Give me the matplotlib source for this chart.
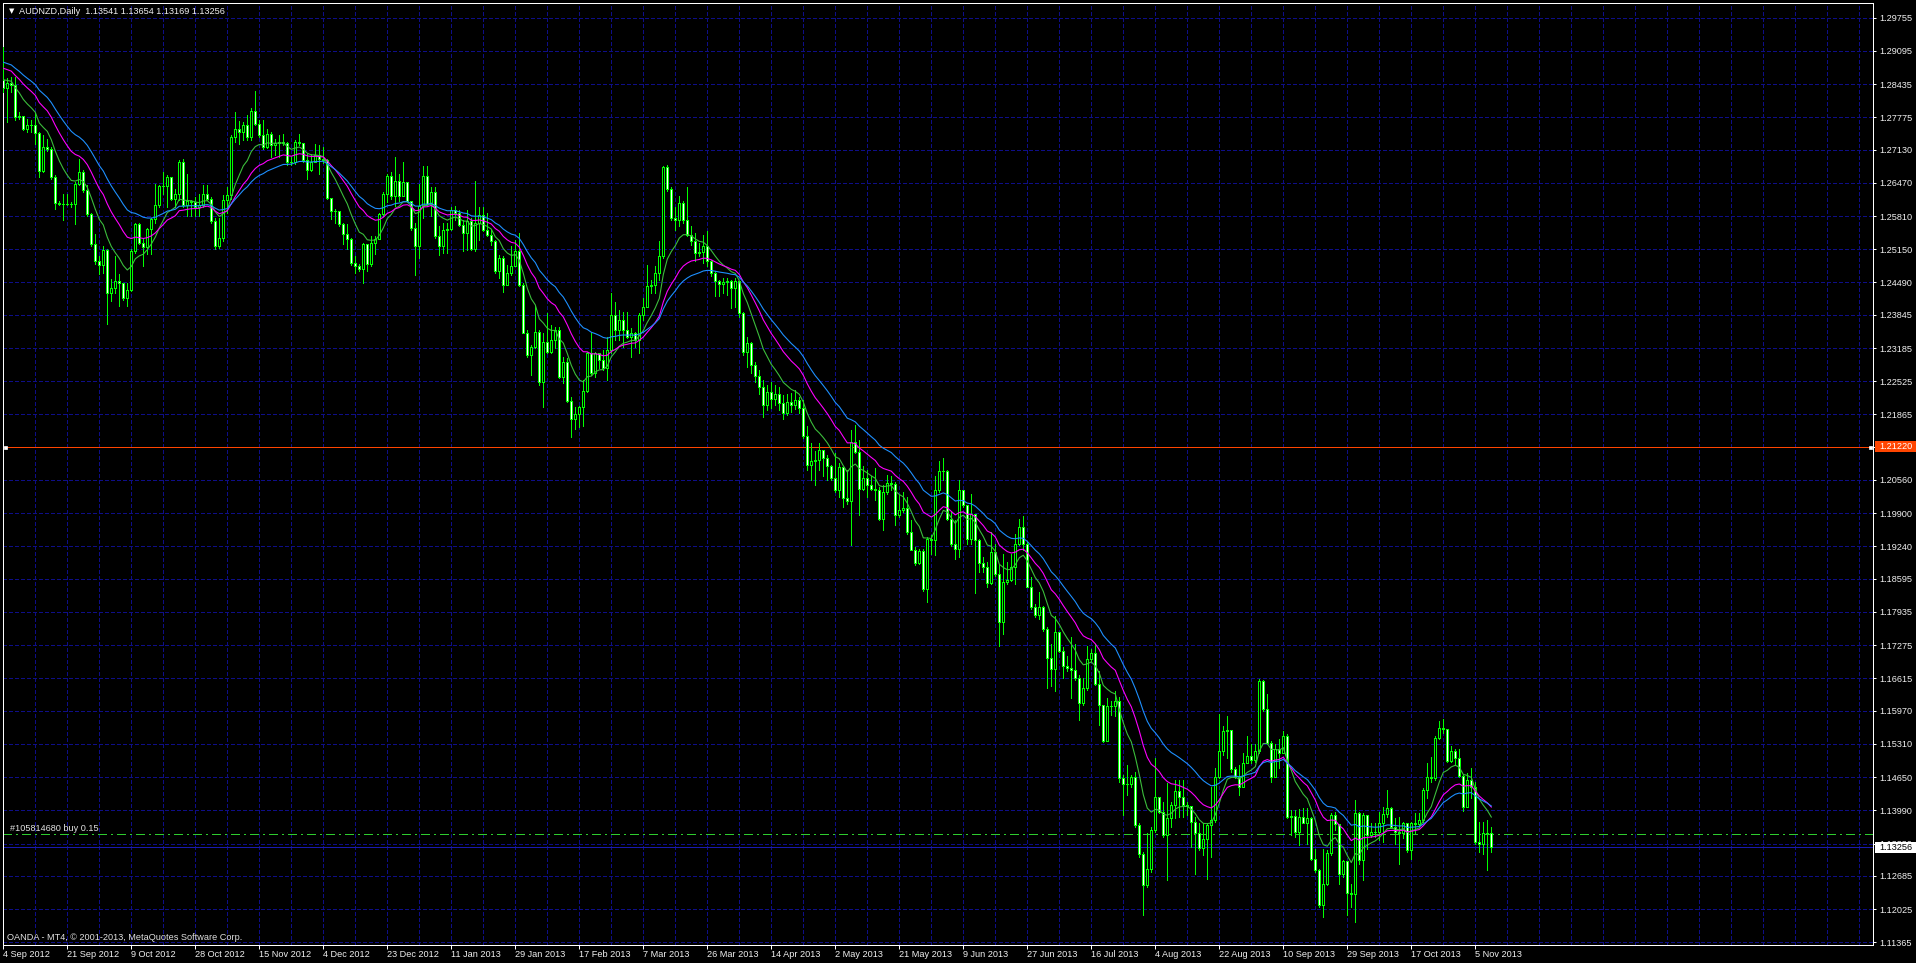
import matplotlib
matplotlib.use("Agg")
import matplotlib.pyplot as plt
import matplotlib.transforms as mtransforms
from matplotlib.patches import Rectangle
import numpy as np

# ---------------- data ----------------
title_text = "AUDNZD,Daily  1.13541 1.13654 1.13169 1.13256"
footer_text = "OANDA - MT4, \u00a9 2001-2013, MetaQuotes Software Corp."
first_open = 1.2852
last_open = 1.13541

closes = [
    1.2835,1.2845,1.2842,1.2778,1.2780,1.2755,1.2763,1.2762,1.2747,1.2670,
    1.2718,1.2714,1.2658,1.2607,1.2605,1.2604,1.2604,1.2605,1.2645,1.2668,
    1.2632,1.2585,1.2525,1.2492,1.2483,1.2514,1.2428,1.2438,1.2452,1.2448,
    1.2418,1.2433,1.2512,1.2565,1.2528,1.2520,1.2555,1.2575,1.2602,1.2640,
    1.2640,1.2658,1.2614,1.2625,1.2688,1.2602,1.2610,1.2608,1.2598,1.2602,
    1.2625,1.2615,1.2572,1.2522,1.2538,1.2612,1.2622,1.2738,1.2755,1.2748,
    1.2763,1.2738,1.2790,1.2764,1.2742,1.2718,1.2745,1.2722,1.2727,1.2728,
    1.2727,1.2688,1.2688,1.2728,1.2727,1.2692,1.2672,1.2688,1.2702,1.2695,
    1.2692,1.2616,1.2592,1.2592,1.2565,1.2545,1.2535,1.2487,1.2482,1.2476,
    1.2525,1.2485,1.2528,1.2535,1.2585,1.2624,1.2660,1.2621,1.2651,1.2621,
    1.2648,1.2611,1.2558,1.2521,1.2601,1.2660,1.2604,1.2628,1.2541,1.2522,
    1.2554,1.2556,1.2594,1.2588,1.2564,1.2548,1.2571,1.2516,1.2568,1.2584,
    1.2554,1.2544,1.2531,1.2471,1.2498,1.2444,1.2468,1.2482,1.2511,1.2444,
    1.2349,1.2304,1.2321,1.2351,1.2251,1.2331,1.2311,1.2334,1.2354,1.2261,
    1.2291,1.2214,1.2178,1.2188,1.2202,1.2234,1.2308,1.2268,1.2308,1.2294,
    1.2278,1.2314,1.2384,1.2354,1.2374,1.2354,1.2341,1.2348,1.2334,1.2384,
    1.2401,1.2442,1.2444,1.2468,1.2501,1.2678,1.2634,1.2578,1.2574,1.2606,
    1.2574,1.2544,1.2531,1.2508,1.2509,1.2522,1.2491,1.2468,1.2451,1.2446,
    1.2449,1.2451,1.2438,1.2451,1.2388,1.2311,1.2328,1.2284,1.2262,1.2240,
    1.2205,1.2232,1.2218,1.2228,1.2210,1.2190,1.2212,1.2205,1.2215,1.2200,
    1.2143,1.2086,1.2093,1.2095,1.2115,1.2099,1.2083,1.2059,1.2036,1.2081,
    1.2021,1.2015,1.2131,1.2111,1.2039,1.2059,1.2046,1.2039,1.2037,1.1979,
    1.2033,1.2051,1.2048,1.1986,1.1996,1.2001,1.1953,1.1917,1.1891,1.1915,
    1.1839,1.1939,1.1936,1.2036,1.2073,1.2073,1.1979,1.1928,1.1919,1.2036,
    1.2006,1.1939,1.1989,1.1936,1.1891,1.1883,1.1851,1.1913,1.1869,1.1773,
    1.1853,1.1857,1.1883,1.1929,1.1963,1.1929,1.1844,1.1803,1.1788,1.1803,
    1.1759,1.1701,1.1681,1.1753,1.1716,1.1686,1.1683,1.1679,1.1663,1.1613,
    1.1643,1.1699,1.1711,1.1651,1.1608,1.1537,1.1606,1.1606,1.1616,1.1463,
    1.1451,1.1451,1.1465,1.1370,1.1312,1.1250,1.1283,1.1360,1.1425,1.1396,
    1.1350,1.1383,1.1410,1.1438,1.1426,1.1410,1.1408,1.1376,1.1353,1.1325,
    1.1341,1.1370,1.1380,1.1465,1.1516,1.1556,1.1558,1.1481,1.1466,1.1446,
    1.1493,1.1508,1.1500,1.1516,1.1656,1.1600,1.1532,1.1466,1.1520,1.1513,
    1.1546,1.1386,1.1388,1.1356,1.1386,1.1374,1.1383,1.1303,1.1281,1.1210,
    1.1252,1.1314,1.1390,1.1372,1.1273,1.1298,1.1234,1.1232,1.1393,1.1300,
    1.1390,1.1350,1.1356,1.1356,1.1374,1.1392,1.1403,1.1366,1.1356,1.1353,
    1.1373,1.1320,1.1373,1.1372,1.1380,1.1440,1.1466,1.1463,1.1543,1.1563,
    1.1560,1.1498,1.1516,1.1503,1.1468,1.1405,1.1460,1.1446,1.1336,1.1333,
    1.1354,1.1353,1.13256,
]

highs = [
    1.2918,1.2855,1.2858,1.2858,1.2787,1.2778,1.2775,1.2772,1.2785,1.2748,
    1.2742,1.2735,1.2718,1.2662,1.2610,1.2625,1.2625,1.2608,1.2648,1.2695,
    1.2672,1.2642,1.2588,1.2545,1.2502,1.2522,1.2515,1.2455,1.2502,1.2465,
    1.2442,1.2448,1.2515,1.2568,1.2568,1.2535,1.2558,1.2578,1.2645,1.2642,
    1.2668,1.2662,1.2658,1.2635,1.2692,1.2695,1.2665,1.2612,1.2618,1.2625,
    1.2642,1.2642,1.2618,1.2578,1.2578,1.2622,1.2638,1.2742,1.2787,1.2770,
    1.2768,1.2782,1.2795,1.2830,1.2772,1.2773,1.2755,1.2748,1.2735,1.2742,
    1.2745,1.2728,1.2698,1.2732,1.2745,1.2725,1.2705,1.2705,1.2725,1.2722,
    1.2718,1.2695,1.2616,1.2595,1.2588,1.2568,1.2565,1.2538,1.2502,1.2485,
    1.2528,1.2502,1.2542,1.2542,1.2588,1.2628,1.2664,1.2668,1.2698,1.2664,
    1.2688,1.2638,1.2611,1.2568,1.2644,1.2681,1.2681,1.2638,1.2638,1.2561,
    1.2568,1.2568,1.2598,1.2600,1.2594,1.2574,1.2594,1.2578,1.2651,1.2598,
    1.2598,1.2588,1.2554,1.2534,1.2504,1.2501,1.2484,1.2521,1.2534,1.2548,
    1.2448,1.2354,1.2324,1.2404,1.2354,1.2348,1.2388,1.2364,1.2361,1.2361,
    1.2301,1.2298,1.2221,1.2201,1.2204,1.2254,1.2311,1.2348,1.2311,1.2308,
    1.2314,1.2341,1.2428,1.2411,1.2394,1.2391,1.2391,1.2358,1.2351,1.2388,
    1.2418,1.2484,1.2454,1.2481,1.2531,1.2681,1.2682,1.2638,1.2598,1.2621,
    1.2611,1.2638,1.2561,1.2548,1.2528,1.2544,1.2551,1.2494,1.2471,1.2454,
    1.2458,1.2458,1.2454,1.2458,1.2451,1.2391,1.2341,1.2331,1.2290,1.2275,
    1.2255,1.2245,1.2250,1.2245,1.2240,1.2225,1.2228,1.2230,1.2235,1.2222,
    1.2215,1.2163,1.2129,1.2113,1.2129,1.2116,1.2106,1.2086,1.2109,1.2089,
    1.2073,1.2076,1.2156,1.2166,1.2136,1.2083,1.2076,1.2063,1.2079,1.2043,
    1.2046,1.2066,1.2063,1.2053,1.2026,1.2033,1.2023,1.1976,1.1923,1.1919,
    1.1919,1.1943,1.1946,1.2063,1.2093,1.2099,1.2076,1.1993,1.1976,1.2056,
    1.2033,1.2006,1.2029,1.1983,1.1939,1.1903,1.1893,1.1953,1.1929,1.1886,
    1.1909,1.1893,1.1909,1.1949,1.1979,1.1984,1.1933,1.1863,1.1809,1.1833,
    1.1806,1.1763,1.1729,1.1786,1.1749,1.1723,1.1706,1.1743,1.1729,1.1669,
    1.1663,1.1726,1.1719,1.1729,1.1676,1.1609,1.1623,1.1616,1.1636,1.1624,
    1.1469,1.1489,1.1470,1.1476,1.1373,1.1316,1.1353,1.1366,1.1503,1.1426,
    1.1416,1.1453,1.1416,1.1460,1.1460,1.1460,1.1416,1.1406,1.1386,1.1373,
    1.1373,1.1373,1.1446,1.1483,1.1590,1.1566,1.1586,1.1556,1.1486,1.1490,
    1.1513,1.1546,1.1530,1.1530,1.1660,1.1658,1.1630,1.1536,1.1530,1.1540,
    1.1556,1.1550,1.1400,1.1400,1.1401,1.1403,1.1403,1.1386,1.1323,1.1283,
    1.1323,1.1320,1.1393,1.1396,1.1350,1.1300,1.1266,1.1253,1.1420,1.1396,
    1.1393,1.1376,1.1373,1.1373,1.1396,1.1406,1.1440,1.1406,1.1383,1.1386,
    1.1376,1.1350,1.1376,1.1393,1.1393,1.1443,1.1493,1.1506,1.1546,1.1576,
    1.1580,1.1560,1.1526,1.1520,1.1520,1.1470,1.1473,1.1483,1.1456,1.1376,
    1.1376,1.1380,1.13654,
]

lows = [
    1.2828,1.2768,1.2828,1.2772,1.2775,1.2752,1.2748,1.2748,1.2725,1.2658,
    1.2668,1.2710,1.2655,1.2596,1.2602,1.2573,1.2602,1.2598,1.2565,1.2642,
    1.2628,1.2582,1.2522,1.2485,1.2465,1.2468,1.2367,1.2412,1.2428,1.2402,
    1.2415,1.2402,1.2432,1.2508,1.2525,1.2482,1.2505,1.2505,1.2568,1.2598,
    1.2625,1.2598,1.2612,1.2598,1.2612,1.2598,1.2582,1.2582,1.2582,1.2582,
    1.2598,1.2612,1.2568,1.2516,1.2518,1.2532,1.2588,1.2615,1.2728,1.2725,
    1.2732,1.2732,1.2732,1.2762,1.2738,1.2715,1.2716,1.2698,1.2702,1.2698,
    1.2722,1.2682,1.2682,1.2685,1.2722,1.2688,1.2655,1.2670,1.2688,1.2665,
    1.2687,1.2615,1.2575,1.2568,1.2562,1.2525,1.2516,1.2483,1.2468,1.2472,
    1.2447,1.2472,1.2482,1.2505,1.2535,1.2581,1.2608,1.2614,1.2601,1.2611,
    1.2641,1.2608,1.2554,1.2464,1.2498,1.2578,1.2601,1.2581,1.2538,1.2504,
    1.2508,1.2508,1.2554,1.2574,1.2561,1.2511,1.2514,1.2514,1.2511,1.2534,
    1.2551,1.2541,1.2524,1.2468,1.2458,1.2429,1.2448,1.2464,1.2481,1.2441,
    1.2348,1.2301,1.2264,1.2318,1.2244,1.2201,1.2308,1.2308,1.2318,1.2258,
    1.2248,1.2211,1.2141,1.2158,1.2161,1.2164,1.2231,1.2264,1.2261,1.2278,
    1.2274,1.2254,1.2308,1.2334,1.2334,1.2321,1.2338,1.2301,1.2321,1.2308,
    1.2374,1.2401,1.2428,1.2428,1.2454,1.2498,1.2631,1.2574,1.2554,1.2561,
    1.2568,1.2541,1.2524,1.2491,1.2501,1.2488,1.2481,1.2461,1.2421,1.2421,
    1.2428,1.2424,1.2398,1.2401,1.2381,1.2304,1.2281,1.2268,1.2250,1.2228,
    1.2181,1.2195,1.2200,1.2205,1.2195,1.2178,1.2185,1.2192,1.2198,1.2190,
    1.2140,1.2076,1.2056,1.2046,1.2076,1.2063,1.2056,1.2056,1.2033,1.2023,
    1.2003,1.2009,1.1926,1.2109,1.1986,1.2036,1.2023,1.2036,1.2016,1.1976,
    1.1956,1.2029,1.2036,1.1966,1.1983,1.1993,1.1949,1.1916,1.1886,1.1889,
    1.1836,1.1813,1.1909,1.1906,1.2033,1.2056,1.1976,1.1924,1.1899,1.1903,
    1.2003,1.1929,1.1929,1.1831,1.1873,1.1873,1.1843,1.1849,1.1866,1.1726,
    1.1749,1.1849,1.1856,1.1849,1.1926,1.1916,1.1843,1.1799,1.1783,1.1779,
    1.1756,1.1643,1.1646,1.1637,1.1713,1.1663,1.1676,1.1623,1.1659,1.1579,
    1.1609,1.1639,1.1696,1.1649,1.1569,1.1535,1.1563,1.1588,1.1586,1.1456,
    1.1389,1.1429,1.1446,1.1366,1.1306,1.1190,1.1246,1.1276,1.1356,1.1393,
    1.1346,1.1260,1.1366,1.1383,1.1386,1.1386,1.1390,1.1326,1.1273,1.1320,
    1.1310,1.1263,1.1306,1.1376,1.1463,1.1510,1.1503,1.1476,1.1463,1.1430,
    1.1446,1.1493,1.1493,1.1496,1.1513,1.1596,1.1530,1.1456,1.1483,1.1483,
    1.1513,1.1383,1.1350,1.1346,1.1330,1.1373,1.1333,1.1300,1.1276,1.1206,
    1.1186,1.1250,1.1310,1.1360,1.1253,1.1266,1.1190,1.1206,1.1176,1.1293,
    1.1260,1.1323,1.1346,1.1346,1.1340,1.1336,1.1386,1.1363,1.1333,1.1293,
    1.1343,1.1316,1.1303,1.1353,1.1370,1.1376,1.1423,1.1456,1.1460,1.1540,
    1.1553,1.1496,1.1496,1.1490,1.1466,1.1398,1.1443,1.1423,1.1333,1.1316,
    1.1313,1.1281,1.13169,
]

date_labels = ["4 Sep 2012", "21 Sep 2012", "9 Oct 2012", "28 Oct 2012", "15 Nov 2012",
               "4 Dec 2012", "23 Dec 2012", "11 Jan 2013", "29 Jan 2013", "17 Feb 2013",
               "7 Mar 2013", "26 Mar 2013", "14 Apr 2013", "2 May 2013", "21 May 2013",
               "9 Jun 2013", "27 Jun 2013", "16 Jul 2013", "4 Aug 2013", "22 Aug 2013",
               "10 Sep 2013", "29 Sep 2013", "17 Oct 2013", "5 Nov 2013"]
bars_per_label = 16
bars_per_grid = 8

price_ticks = [1.29755, 1.29095, 1.28435, 1.27775, 1.27130, 1.26470, 1.25810, 1.25150,
               1.24490, 1.23845, 1.23185, 1.22525, 1.21865, 1.21210, 1.20560, 1.19900,
               1.19240, 1.18595, 1.17935, 1.17275, 1.16615, 1.15970, 1.15310, 1.14650,
               1.13990, 1.13330, 1.12685, 1.12025, 1.11365]

alert_price = 1.21220
order_price = 1.13515
order_label = "#105814680 buy 0.15"
bid_price = 1.13256

ma_periods = [10, 20, 30]
ma_start_values = [1.2852, 1.2875, 1.2887]
ma_colors = ["#3CBE3C", "#FF00FF", "#1E90FF"]

# ---------------- styling ----------------
W, H = 1916, 963
DPI = 100
LIME = "#00FF00"
GRID = "#0E0E88"
TXT = "#F0F0F0"
FONT = "Liberation Sans"
FS = 6.6
PX = 72.0 / DPI  # points per pixel

n = len(closes)
assert len(highs) == n and len(lows) == n

opens = [first_open] + closes[:-1]
opens[-1] = last_open
o = np.array(opens)
c = np.array(closes)
h = np.maximum(np.array(highs), np.maximum(o, c))
l = np.minimum(np.array(lows), np.minimum(o, c))
x = np.arange(n)

fig = plt.figure(figsize=(W / DPI, H / DPI), dpi=DPI, facecolor="black")
# plot area: x 3..1873 px, y 3..945 px (from top)
ax = fig.add_axes([3 / W, (H - 945) / H, 1870 / W, 942 / H], facecolor="black")

# price scale: 1.29755 at 17.7 px, 1.11365 at 942.3 px
ppx = (price_ticks[0] - price_ticks[-1]) / (942.3 - 17.7)
y_top = price_ticks[0] + (17.7 - 3) * ppx
y_bot = price_ticks[0] - (945 - 17.7) * ppx
x_left = (3 - 3.3) / 4.0
x_right = (1873 - 3.3) / 4.0
ax.set_xlim(x_left, x_right)
ax.set_ylim(y_bot, y_top)

dash = (0, (3.0, 2.2))
for p in price_ticks:
    ax.axhline(p, color=GRID, lw=1 * PX, ls=dash, zorder=1, antialiased=False)
for g in range(bars_per_grid, int(x_right) + 1, bars_per_grid):
    ax.axvline(g, color=GRID, lw=1 * PX, ls=dash, zorder=1, antialiased=False)

# horizontal levels
ax.axhline(bid_price, color="#1A1AB0", lw=1 * PX, zorder=1.5, antialiased=False)
ax.axhline(order_price, color="#2ECC2E", lw=1.2 * PX, ls=(0, (7.2, 3.6, 1.5, 3.6)),
           zorder=1.6, antialiased=False)
ax.axhline(alert_price, color="#FF4500", lw=1 * PX, zorder=1.6, antialiased=False)
ax.plot([x_left + 0.55, x_right - 0.75], [alert_price, alert_price], "s", ms=3 * PX,
        mfc="white", mec="white", mew=0.5, zorder=6, clip_on=False)

# candles
ax.vlines(x, l, h, colors=LIME, lw=1 * PX, zorder=3, antialiased=False)
bull = c > o
fills = ["black" if b else "white" for b in bull]
ax.bar(x, np.abs(c - o), bottom=np.minimum(o, c), width=0.5, color=fills,
       edgecolor=LIME, linewidth=1 * PX, zorder=4, antialiased=False)

# moving averages (exponential, seeded with the value shown at the first bar)
for period, start, col in zip(ma_periods, ma_start_values, ma_colors):
    k = 2.0 / (period + 1)
    vals = [start]
    for cl in closes[1:]:
        vals.append(vals[-1] + k * (cl - vals[-1]))
    ax.plot(x, vals, color=col, lw=1.1 * PX, zorder=5, antialiased=True)

# axes frame
for s in ax.spines.values():
    s.set_color("white")
    s.set_linewidth(1 * PX)

# right price axis
ax.yaxis.tick_right()
ax.set_yticks(price_ticks)
ax.set_yticklabels([f"{p:.5f}" for p in price_ticks])
ax.tick_params(axis="y", which="major", direction="out", length=3 * PX, width=1 * PX,
               colors="white", pad=3 * PX, labelsize=FS)
for lab in ax.get_yticklabels():
    lab.set_fontfamily(FONT)
    lab.set_color(TXT)

# bottom date axis
xt = [i * bars_per_label for i in range(len(date_labels))]
ax.set_xticks(xt)
ax.set_xticklabels(date_labels, ha="left")
ax.tick_params(axis="x", which="major", direction="out", length=4 * PX, width=1 * PX,
               colors="white", pad=0.5, labelsize=FS)
for lab in ax.get_xticklabels():
    lab.set_fontfamily(FONT)
    lab.set_color(TXT)

# price boxes on the right axis
trans = mtransforms.blended_transform_factory(ax.transAxes, ax.transData)
box_w = (W - 1875) / 1870
box_h = 11 * ppx
ax.add_patch(Rectangle((1 + 2 / 1870, alert_price - box_h / 2), box_w, box_h, transform=trans,
                       facecolor="#FF4500", edgecolor="none", clip_on=False, zorder=7))
ax.text(1 + 6 / 1870, alert_price, f"{alert_price:.5f}", transform=trans, color="white",
        fontsize=FS, family=FONT, va="center", ha="left", zorder=8, clip_on=False)
ax.add_patch(Rectangle((1 + 2 / 1870, bid_price - box_h / 2), box_w, box_h, transform=trans,
                       facecolor="white", edgecolor="none", clip_on=False, zorder=7))
ax.text(1 + 6 / 1870, bid_price, f"{bid_price:.5f}", transform=trans, color="black",
        fontsize=FS, family=FONT, va="center", ha="left", zorder=8, clip_on=False)

# order label
ax.annotate(order_label, xy=(7 / 1870, order_price), xycoords=trans,
            xytext=(0, 1.5), textcoords="offset pixels", color="#E0E0E0",
            fontsize=FS, family=FONT, va="bottom", ha="left", zorder=8)

# title & footer
fig.text(8.5 / W, 1 - 11 / H, "\u25bc", color="white", fontsize=5, family="DejaVu Sans",
         va="center", ha="left")
fig.text(19 / W, 1 - 11 / H, title_text, color=TXT, fontsize=FS, family=FONT,
         va="center", ha="left")
fig.text(7 / W, 1 - 937.5 / H, footer_text, color="#E0E0E0", fontsize=FS, family=FONT,
         va="center", ha="left")

fig.savefig("out.png", dpi=DPI, facecolor="black")
